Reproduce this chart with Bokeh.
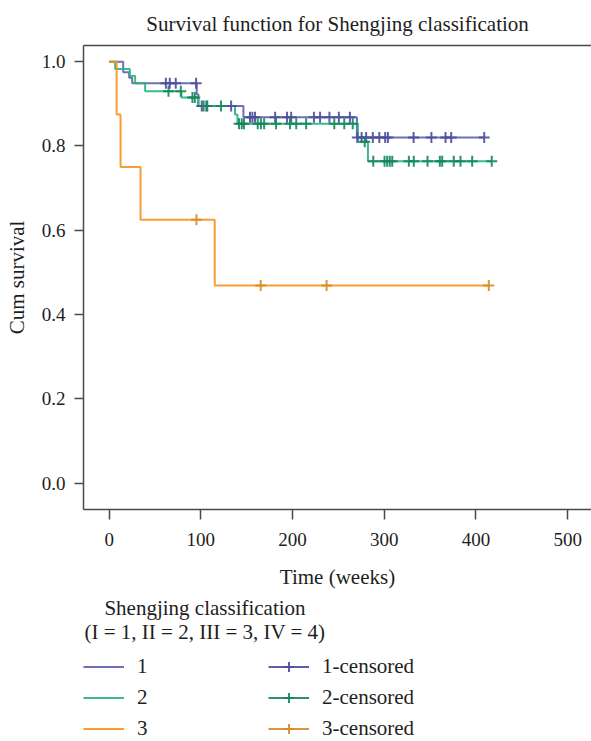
import numpy as np
from bokeh.plotting import figure
from bokeh.layouts import column
from bokeh.models import (Range1d, FixedTicker, PrintfTickFormatter, LinearAxis,
                          Legend, LegendItem, Label)
from bokeh.embed import file_html
from bokeh.resources import INLINE

# ---------------- data ----------------
x_ticks = [0, 100, 200, 300, 400, 500]
y_ticks = [0.0, 0.2, 0.4, 0.6, 0.8, 1.0]

g1_times = [0, 15.3, 21.8, 25.1, 95.5, 97.4, 146.4, 270.2]
g1_surv = [1.0, 0.975, 0.962, 0.949, 0.922, 0.895, 0.868, 0.820]
g1_end = 409
g1_censored = [61.8, 66.1, 72.6, 94.8, 101, 106, 133, 153.6, 156.2, 159.0, 181, 194,
               198.5, 223.3, 230, 240.2, 250.5, 262.5, 270.6, 275.3, 280.2, 287.5,
               294.6, 301, 304, 332, 351.4, 366.8, 373, 409]

g2_times = [0, 6.5, 22.5, 28.3, 39.2, 78.8, 97.0, 137.2, 139.9, 271.3, 282.2]
g2_surv = [1.0, 0.983, 0.966, 0.949, 0.930, 0.915, 0.895, 0.875, 0.853, 0.810, 0.764]
g2_end = 417.2
g2_censored = [64.7, 78.1, 90.8, 93.4, 103, 107, 122, 141.6, 144.6, 147, 162, 165.5,
               169, 182, 197.2, 204, 214.8, 245.5, 256.4, 265.6, 278.7, 288, 300.3,
               303.2, 306, 308.7, 326.8, 332.2, 347.2, 360.6, 363.2, 375.8, 383.1,
               395.9, 417.2]

g3_times = [0, 8.1, 12.4, 34.2, 115.1]
g3_surv = [1.0, 0.875, 0.75, 0.625, 0.469]
g3_end = 414
g3_censored = [95.2, 165.3, 237.1, 414]

group_labels = ["1", "2", "3"]
censor_labels = ["1-censored", "2-censored", "3-censored"]
legend_title = ["Shengjing classification", "(I = 1, II = 2, III = 3, IV = 4)"]

line_colors = ["#5d60b0", "#27b37f", "#f5931e"]
mark_colors = ["#4b4d9c", "#12875b", "#d68b22"]

FONT = "Liberation Serif"
TXT = "#1e1e1e"
AX = "#4a4a4a"
W = 591
LEFT = 83
PH = 597

p = figure(width=W, height=PH, x_range=Range1d(-28, 526),
           y_range=Range1d(-0.0627, 1.0385), output_backend="svg",
           toolbar_location=None, min_border_left=LEFT, min_border_right=0,
           min_border_top=45, min_border_bottom=88,
           title="Survival function for Shengjing classification")
p.outline_line_color = None
p.xgrid.visible = False
p.ygrid.visible = False
p.background_fill_color = "white"
p.border_fill_color = "white"

p.title.align = "center"
p.title.text_font = FONT
p.title.text_font_size = "21px"
p.title.text_font_style = "normal"
p.title.text_color = TXT
p.title.standoff = 19

def step_xy(times, surv, end):
    return list(times) + [end], list(surv) + [surv[-1]]

def surv_at(times, surv, t):
    idx = np.searchsorted(np.asarray(times), np.asarray(t), side="right") - 1
    return np.asarray(surv)[idx]

groups = [(g1_times, g1_surv, g1_end, g1_censored),
          (g2_times, g2_surv, g2_end, g2_censored),
          (g3_times, g3_surv, g3_end, g3_censored)]

for i, (tt, ss, end, cens) in enumerate(groups):
    xs, ys = step_xy(tt, ss, end)
    p.step(xs, ys, mode="after", line_color=line_colors[i], line_width=2,
           line_alpha=0.9)

for i, (tt, ss, end, cens) in enumerate(groups):
    cy = surv_at(tt, ss, cens)
    p.scatter(cens, cy, marker="cross", size=11, line_width=2,
              line_color=mark_colors[i], line_alpha=0.9)

# axes
for ax in (p.xaxis[0], p.yaxis[0]):
    ax.axis_line_color = AX
    ax.axis_line_width = 1.5
    ax.major_tick_line_color = AX
    ax.major_tick_line_width = 1.5
    ax.major_tick_in = 0
    ax.minor_tick_line_color = None
    ax.major_label_text_font = FONT
    ax.major_label_text_font_size = "19px"
    ax.major_label_text_color = TXT
    ax.axis_label_text_font = FONT
    ax.axis_label_text_font_size = "21px"
    ax.axis_label_text_font_style = "normal"
    ax.axis_label_text_color = TXT

p.xaxis.ticker = FixedTicker(ticks=x_ticks)
p.xaxis.axis_label = "Time (weeks)"
p.xaxis.major_tick_out = 10
p.xaxis.major_label_standoff = 13
p.xaxis.axis_label_standoff = 16

p.yaxis.ticker = FixedTicker(ticks=y_ticks)
p.yaxis.formatter = PrintfTickFormatter(format="%.1f")
p.yaxis.axis_label = "Cum survival"
p.yaxis.major_tick_out = 9
p.yaxis.major_label_standoff = 9
p.yaxis.axis_label_standoff = 10

top_ax = LinearAxis(ticker=FixedTicker(ticks=[]), axis_line_color=AX,
                    axis_line_width=1.5, major_tick_out=0, major_tick_in=0,
                    minor_tick_out=0, minor_tick_in=0, major_label_standoff=0,
                    major_label_text_font_size="0px")
p.add_layout(top_ax, "above")

# ---------------- legend panel ----------------
LH = 741 - PH
q = figure(width=W, height=LH, x_range=Range1d(0, W - LEFT), y_range=Range1d(0, LH),
           output_backend="svg", toolbar_location=None, x_axis_type=None,
           y_axis_type=None, min_border=0, min_border_left=LEFT)
q.outline_line_color = None
q.xgrid.visible = False
q.ygrid.visible = False

step_items = []
cens_items = []
for i, (tt, ss, end, cens) in enumerate(groups):
    xs, ys = step_xy(tt, ss, end)
    r = q.step(xs, ys, mode="after", line_color=line_colors[i], line_width=2,
               line_alpha=0.9, visible=False)
    step_items.append(LegendItem(label=group_labels[i], renderers=[r]))
for i, (tt, ss, end, cens) in enumerate(groups):
    cy = surv_at(tt, ss, cens)
    lr = q.line(cens, cy, line_color=mark_colors[i], line_width=2, line_alpha=0.9,
                visible=False)
    c = q.scatter(cens, cy, marker="cross", size=11, line_width=2,
                  line_color=mark_colors[i], line_alpha=0.9, visible=False)
    cens_items.append(LegendItem(label=censor_labels[i], renderers=[lr, c]))

for k, txt in enumerate(legend_title):
    q.add_layout(Label(x=121.5, y=134 - 24 * k, x_units="screen", y_units="screen",
                       text=txt, text_align="center", text_baseline="middle",
                       text_font=FONT, text_font_size="21px", text_color=TXT))

legend = Legend(items=step_items + cens_items, ncols=2, orientation="vertical",
                location=(0, 0), glyph_width=41, glyph_height=25,
                label_height=25, label_standoff=13, label_width=125, spacing=6,
                padding=0, margin=0, border_line_color=None,
                background_fill_alpha=0, label_text_font=FONT,
                label_text_font_size="21px", label_text_color=TXT)
q.add_layout(legend, "center")

layout = column(p, q, spacing=0)
open("out.html", "w").write(file_html(layout, INLINE))
